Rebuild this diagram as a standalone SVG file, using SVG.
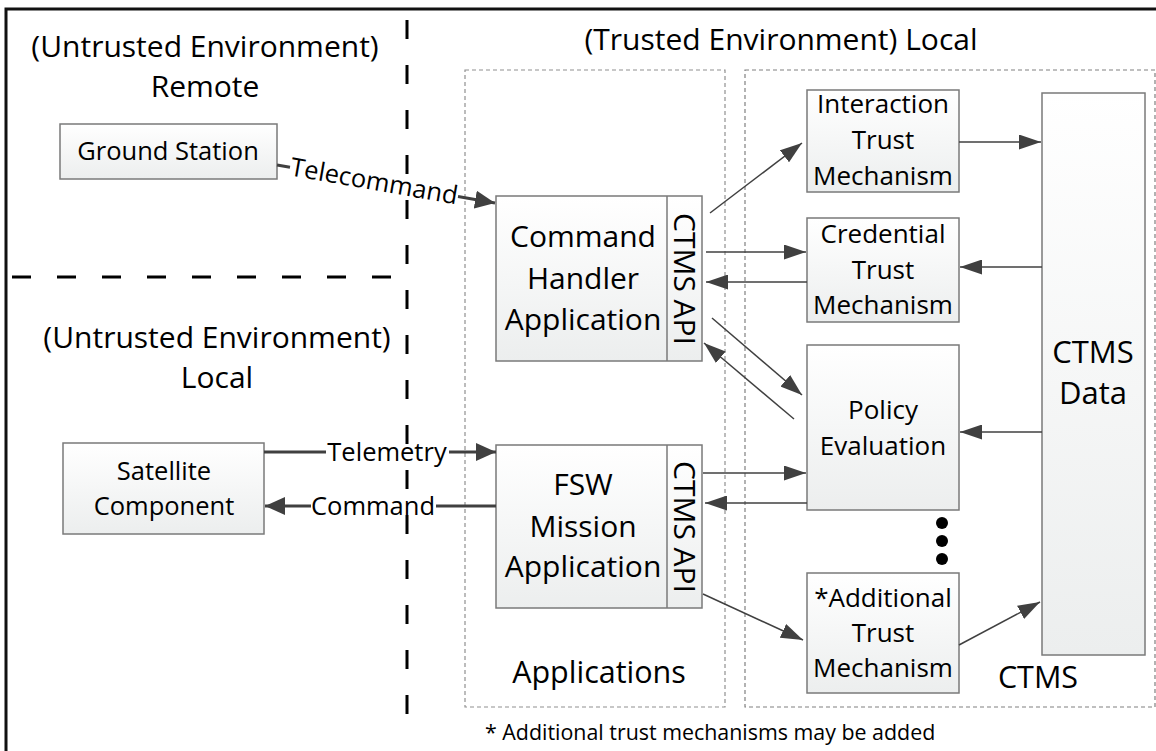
<svg xmlns="http://www.w3.org/2000/svg" width="1156" height="751" viewBox="0 0 1156 751">
  <defs>
    <linearGradient id="boxFill" x1="0" y1="0" x2="0" y2="1">
      <stop offset="0" stop-color="#ffffff"/>
      <stop offset="1" stop-color="#eceeee"/>
    </linearGradient>
    <marker id="arrowThin" markerUnits="userSpaceOnUse" markerWidth="22" markerHeight="15" refX="22" refY="7.5" orient="auto">
      <path d="M0,0 L22,7.5 L0,15 z" fill="#404040"/>
    </marker>
    <marker id="arrowThick" markerUnits="userSpaceOnUse" markerWidth="20" markerHeight="18" refX="20" refY="9" orient="auto">
      <path d="M0,0 L20,9 L0,18 z" fill="#404040"/>
    </marker>
  </defs>
  <style>
    text { font-family: "Open Sans", Lato, "Liberation Sans", sans-serif; fill: #000; }
    .title { font-size: 30px; text-anchor: middle; }
    .box { fill: url(#boxFill); stroke: #7a7a7a; stroke-width: 1.5; }
    .big { font-size: 30px; text-anchor: middle; }
    .group-label { font-size: 30.5px; text-anchor: middle; }
    .api { font-size: 29px; text-anchor: middle; }
    .data { font-size: 31px; text-anchor: middle; }
    .mech { font-size: 26px; text-anchor: middle; }
    .ext { font-size: 25.5px; text-anchor: middle; }
    .lbl { font-size: 25.5px; text-anchor: middle; }
    .group { fill: none; stroke-width: 1.2; stroke-dasharray: 4 3; }
    .zone { fill: none; stroke: #000; stroke-width: 3; stroke-dasharray: 19 26; }
    .thin { fill: none; stroke: #404040; stroke-width: 1.5; }
    .thick { fill: none; stroke: #404040; stroke-width: 3; }
  </style>

  <rect width="1156" height="751" fill="#ffffff"/>

  <!-- outer frame (runs off the right and bottom edges) -->
  <path d="M6,760 V9 H1160" fill="none" stroke="#111" stroke-width="3"/>

  <!-- environment boundaries -->
  <g id="boundaries">
    <line class="zone" x1="407" y1="20" x2="407" y2="715"/>
    <line class="zone" x1="12" y1="277" x2="398" y2="277"/>
  </g>

  <!-- environment titles -->
  <g id="titles">
    <text class="title" x="205" y="57">(Untrusted Environment)</text>
    <text class="title" x="205" y="97">Remote</text>
    <text class="title" x="781" y="50">(Trusted Environment) Local</text>
    <text class="title" x="217" y="348">(Untrusted Environment)</text>
    <text class="title" x="217" y="388">Local</text>
  </g>

  <!-- containers -->
  <g id="applications">
    <rect class="group" x="465" y="70" width="260" height="637" stroke="#909090"/>
    <text class="group-label" x="599" y="683">Applications</text>
  </g>
  <g id="ctms">
    <rect class="group" x="745" y="70" width="410" height="637" stroke="#808080"/>
    <text class="group-label" x="1038" y="688">CTMS</text>
  </g>

  <!-- external nodes -->
  <g id="ground-station">
    <rect class="box" x="60" y="124" width="217" height="55"/>
    <text class="ext" x="168" y="160">Ground Station</text>
  </g>
  <g id="satellite-component">
    <rect class="box" x="63" y="443" width="201" height="91"/>
    <text class="ext" x="164" y="480">Satellite</text>
    <text class="ext" x="164" y="515">Component</text>
  </g>

  <!-- applications -->
  <g id="command-handler">
    <rect class="box" x="496" y="196" width="206" height="165"/>
    <line x1="667" y1="196" x2="667" y2="361" stroke="#7a7a7a" stroke-width="1.5"/>
    <text class="big" x="583" y="247">Command</text>
    <text class="big" x="583" y="289">Handler</text>
    <text class="big" x="583" y="330">Application</text>
    <text class="api" transform="translate(674,279) rotate(90)" textLength="132" lengthAdjust="spacingAndGlyphs">CTMS API</text>
  </g>
  <g id="fsw-mission">
    <rect class="box" x="496" y="445" width="206" height="163"/>
    <line x1="667" y1="445" x2="667" y2="608" stroke="#7a7a7a" stroke-width="1.5"/>
    <text class="big" x="583" y="495">FSW</text>
    <text class="big" x="583" y="537">Mission</text>
    <text class="big" x="583" y="577">Application</text>
    <text class="api" transform="translate(674,527) rotate(90)" textLength="132" lengthAdjust="spacingAndGlyphs">CTMS API</text>
  </g>

  <!-- trust mechanisms -->
  <g id="interaction-trust">
    <rect class="box" x="807" y="90" width="152" height="102"/>
    <text class="mech" x="883" y="113">Interaction</text>
    <text class="mech" x="883" y="149">Trust</text>
    <text class="mech" x="883" y="185">Mechanism</text>
  </g>
  <g id="credential-trust">
    <rect class="box" x="807" y="218" width="152" height="104"/>
    <text class="mech" x="883" y="243">Credential</text>
    <text class="mech" x="883" y="279">Trust</text>
    <text class="mech" x="883" y="314">Mechanism</text>
  </g>
  <g id="policy-evaluation">
    <rect class="box" x="807" y="345" width="152" height="165"/>
    <text class="mech" x="883" y="419">Policy</text>
    <text class="mech" x="883" y="455">Evaluation</text>
  </g>
  <g id="more-mechanisms">
    <circle cx="942" cy="523" r="6" fill="#000"/>
    <circle cx="942" cy="541" r="6" fill="#000"/>
    <circle cx="942" cy="559" r="6" fill="#000"/>
  </g>
  <g id="additional-trust">
    <rect class="box" x="807" y="573" width="152" height="120"/>
    <text class="mech" x="883" y="607">*Additional</text>
    <text class="mech" x="883" y="642">Trust</text>
    <text class="mech" x="883" y="677">Mechanism</text>
  </g>
  <g id="ctms-data">
    <rect class="box" x="1042" y="93" width="103" height="562"/>
    <text class="data" x="1093" y="363">CTMS</text>
    <text class="data" x="1093" y="404">Data</text>
  </g>

  <!-- connectors -->
  <g id="connectors">
    <!-- external links -->
    <line class="thick" x1="277" y1="165" x2="290" y2="167.3"/>
    <line class="thick" x1="458" y1="196.6" x2="495" y2="203" marker-end="url(#arrowThick)"/>
    <text class="lbl" transform="translate(374,182) rotate(9.9)" y="8">Telecommand</text>

    <line class="thick" x1="264" y1="452" x2="326" y2="452"/>
    <line class="thick" x1="449" y1="452" x2="496" y2="452" marker-end="url(#arrowThick)"/>
    <text class="lbl" x="387" y="461">Telemetry</text>

    <line class="thick" x1="496" y1="506" x2="436" y2="506"/>
    <line class="thick" x1="311" y1="506" x2="265" y2="506" marker-end="url(#arrowThick)"/>
    <text class="lbl" x="373" y="515">Command</text>

    <!-- API to mechanisms -->
    <line class="thin" x1="710" y1="213" x2="802" y2="143" marker-end="url(#arrowThin)"/>
    <line class="thin" x1="959" y1="142" x2="1041" y2="142" marker-end="url(#arrowThin)"/>
    <line class="thin" x1="706" y1="252" x2="806" y2="252" marker-end="url(#arrowThin)"/>
    <line class="thin" x1="807" y1="282" x2="706" y2="282" marker-end="url(#arrowThin)"/>
    <line class="thin" x1="1042" y1="267" x2="960" y2="267" marker-end="url(#arrowThin)"/>
    <line class="thin" x1="712" y1="318" x2="802" y2="395" marker-end="url(#arrowThin)"/>
    <line class="thin" x1="794" y1="419" x2="704" y2="343" marker-end="url(#arrowThin)"/>
    <line class="thin" x1="703" y1="473" x2="806" y2="473" marker-end="url(#arrowThin)"/>
    <line class="thin" x1="807" y1="503" x2="705" y2="503" marker-end="url(#arrowThin)"/>
    <line class="thin" x1="1042" y1="432" x2="960" y2="432" marker-end="url(#arrowThin)"/>
    <line class="thin" x1="703" y1="594" x2="803" y2="640" marker-end="url(#arrowThin)"/>
    <line class="thin" x1="959" y1="645" x2="1040" y2="602" marker-end="url(#arrowThin)"/>
  </g>

  <!-- footnote -->
  <text x="485" y="740" font-size="21.4px">* Additional trust mechanisms may be added</text>
</svg>
